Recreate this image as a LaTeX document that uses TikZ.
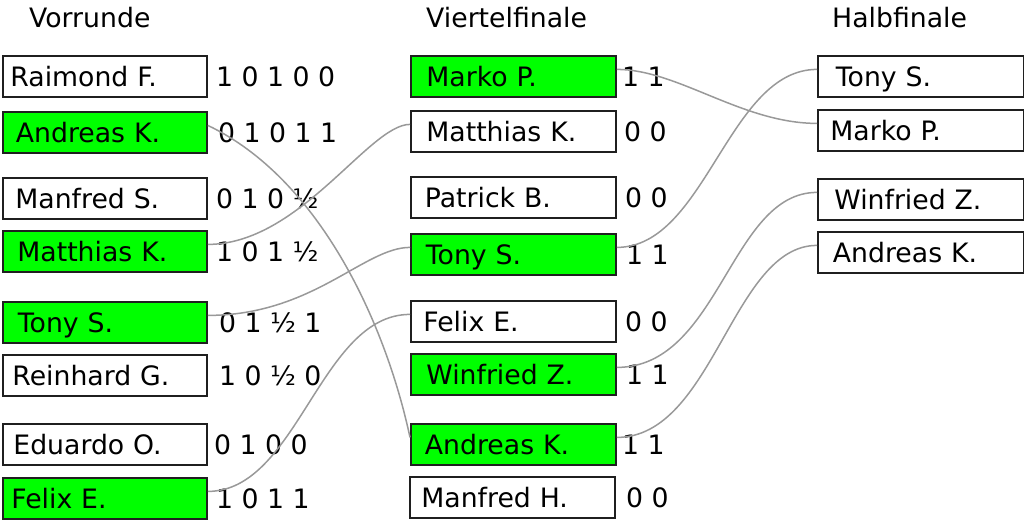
\documentclass[tikz,border=0pt]{standalone}
\usepackage{fontspec}
\setmainfont{DejaVu Sans}
\begin{document}
\begin{tikzpicture}[x=1pt,y=-1pt,
  every node/.style={font=\fontsize{26.7}{32}\selectfont},
  player/.style={draw=black!88, line width=1.8pt, anchor=north west,
    minimum height=41pt, inner ysep=0pt, align=left,
    text height=25.5pt, text depth=6pt},
  lbox/.style={player, inner xsep=11pt, text width=182pt},
  mbox/.style={player, inner xsep=14pt, text width=177pt},
  rbox/.style={player, inner xsep=14pt, text width=178pt},
  win/.style={fill=green},
  score/.style={anchor=west, inner sep=0pt, text height=25.5pt, text depth=6pt},
  head/.style={anchor=base west, inner sep=0pt},
  conn/.style={draw=black!40, line width=1.5pt}]
\useasboundingbox (0,0) rectangle (1024,519);

% headers
\node[head] (h1) at (29,28) {Vorrunde};
\node[head] (h2) at (426,28) {Viertelfinale};
\node[head] (h3) at (832,28) {Halbfinale};

% Vorrunde
\node[lbox] (l1) at (2,55) {\hspace*{-3.5pt}Raimond F.};
\node[lbox,win] (l2) at (2,111) {\hspace*{2pt}Andreas K.};
\node[lbox] (l3) at (2,177) {\hspace*{1.5pt}Manfred S.};
\node[lbox,win] (l4) at (2,230) {\hspace*{3.5pt}Matthias K.};
\node[lbox,win] (l5) at (2,301) {\hspace*{4pt}Tony S.};
\node[lbox] (l6) at (2,354) {\hspace*{-1.5pt}Reinhard G.};
\node[lbox] (l7) at (2,423) {\hspace*{-0.5pt}Eduardo O.};
\node[lbox,win] (l8) at (2,477) {\hspace*{-2.5pt}Felix E.};

\node[score] (ls1) at (216,76.5) {1 0 1 0 0};
\node[score] (ls2) at (218,132.5) {0 1 0 1 1};
\node[score] (ls3) at (216,198.5) {0 1 0 ½};
\node[score] (ls4) at (216,251.5) {1 0 1 ½};
\node[score] (ls5) at (219,322.5) {0 1 ½ 1};
\node[score] (ls6) at (219,375.5) {1 0 ½ 0};
\node[score] (ls7) at (214,444.5) {0 1 0 0};
\node[score] (ls8) at (216,498.5) {1 0 1 1};

% Viertelfinale
\node[mbox,win] (m1) at (410,55) {\hspace*{1.5pt}Marko P.};
\node[mbox] (m2) at (410,110) {\hspace*{1.5pt}Matthias K.};
\node[mbox] (m3) at (410,176) {Patrick B.};
\node[mbox,win] (m4) at (410,233) {\hspace*{1pt}Tony S.};
\node[mbox] (m5) at (410,300) {\hspace*{-1.5pt}Felix E.};
\node[mbox,win] (m6) at (410,353) {\hspace*{1.5pt}Winfried Z.};
\node[mbox,win] (m7) at (410,423) {Andreas K.};
\node[mbox] (m8) at (409,476) {\hspace*{-2.5pt}Manfred H.};

\node[score] (ms1) at (622,76.5) {1 1};
\node[score] (ms2) at (624,131.5) {0 0};
\node[score] (ms3) at (625,197.5) {0 0};
\node[score] (ms4) at (626,254.5) {1 1};
\node[score] (ms5) at (625,321.5) {0 0};
\node[score] (ms6) at (626,374.5) {1 1};
\node[score] (ms7) at (622,444.5) {1 1};
\node[score] (ms8) at (626,497.5) {0 0};

% Halbfinale
\node[rbox] (r1) at (817,55) {\hspace*{4pt}Tony S.};
\node[rbox] (r2) at (817,109) {\hspace*{-1.5pt}Marko P.};
\node[rbox] (r3) at (817,178) {\hspace*{2.5pt}Winfried Z.};
\node[rbox] (r4) at (817,231) {\hspace*{1pt}Andreas K.};

% connectors
\draw[conn] ([yshift=7pt]l2.east) .. controls +(111.5,53) and +(-24.5,-114.5) .. ([yshift=7pt]m7.west);
\draw[conn] ([yshift=7pt]l4.east) .. controls +(92,0) and +(-41,0) .. ([yshift=7pt]m2.west);
\draw[conn] ([yshift=7pt]l5.east) .. controls +(105,0) and +(-46,0) .. ([yshift=7pt]m4.west);
\draw[conn] ([yshift=7pt]l8.east) .. controls +(90,0) and +(-90,0) .. ([yshift=7pt]m5.west);
\draw[conn] ([yshift=7pt]m1.east) .. controls +(61,0) and +(-75,0) .. ([yshift=7pt]r2.west);
\draw[conn] ([yshift=7pt]m4.east) .. controls +(89,0) and +(-89,0) .. ([yshift=7pt]r1.west);
\draw[conn] ([yshift=7pt]m6.east) .. controls +(103,0) and +(-87,0) .. ([yshift=7pt]r3.west);
\draw[conn] ([yshift=7pt]m7.east) .. controls +(97,0) and +(-85,0) .. ([yshift=7pt]r4.west);
\end{tikzpicture}
\end{document}
